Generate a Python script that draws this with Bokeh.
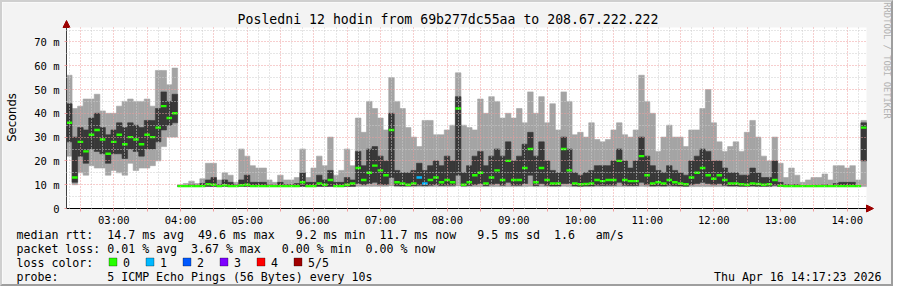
import numpy as np
from bokeh.plotting import figure
from bokeh.models import (FixedTicker, Arrow, NormalHead, Range1d, ColumnDataSource,
                          Label, BoxAnnotation, Grid)
from bokeh.embed import file_html
from bokeh.resources import INLINE

# ---------------- data (ms), one bin per 5 minutes from 02:17:23 ----------------
START_H = 2 + 17 / 60 + 23 / 3600
STEP_H = 5 / 60

RTT_MIN = [
    22, 10, 15, 14, 18, 17, 17, 14, 16, 15,
    14, 19, 16, 17, 17, 18, 20, 26, 30, 30,
    9.2, 9.2, 9.2, 9.2, 9.2, 9.2, 9.2, 9.2, 9.2, 9.2,
    9.2, 9.2, 9.2, 9.2, 9.2, 9.2, 9.2, 9.2, 9.2, 9.2,
    9.2, 9.2, 9.2, 9.2, 9.2, 9.2, 9.2, 9.2, 9.2, 9.2,
    9.2, 9.2, 9.3, 9.3, 9.3, 9.3, 9.3, 9.3, 9.5, 9.2,
    9.2, 9.2, 9.2, 9.2, 9.2, 9.2, 9.2, 9.2, 9.2, 9.2,
    9.5, 9.2, 9.2, 9.2, 9.2, 9.2, 9.2, 9.2, 9.2, 9.2,
    9.2, 9.2, 9.2, 9.3, 9.2, 9.2, 9.2, 9.2, 9.2, 9.3,
    9.2, 9.2, 9.2, 9.2, 9.2, 9.2, 9.2, 9.2, 9.2, 9.2,
    9.2, 9.2, 9.2, 9.3, 9.2, 9.2, 9.2, 9.2, 9.2, 9.2,
    9.2, 9.2, 9.2, 9.2, 9.2, 9.2, 9.2, 9.2, 9.2, 9.2,
    9.2, 9.2, 9.2, 9.2, 9.2, 9.2, 9.2, 9.2, 9.2, 9.2,
    9.2, 9.2, 9.2, 9.2, 9.2, 9.2, 9.2, 9.2, 9.2, 9.2,
    9.2, 9.2, 9.2, 9.2,
]
RTT_Q1 = [
    28, 11, 22, 19, 25, 24, 23, 19, 23, 23,
    21, 25, 24, 22, 25, 25, 28, 33, 35, 36,
    9.3, 9.3, 9.3, 9.3, 9.3, 9.3, 9.3, 9.3, 9.3, 9.3,
    9.3, 9.3, 9.3, 9.3, 9.3, 9.3, 9.3, 9.3, 9.3, 9.3,
    9.3, 9.3, 9.3, 9.3, 9.3, 9.3, 9.3, 9.3, 9.3, 9.3,
    9.3, 9.3, 10.5, 10, 10.5, 11, 10, 10, 13, 9.6,
    9.5, 9.5, 9.6, 9.8, 9.6, 9.8, 10, 9.7, 9.8, 9.8,
    14, 9.5, 9.7, 10, 10.5, 9.6, 10, 10.5, 9.8, 11,
    9.8, 9.8, 10.5, 14, 9.6, 10.5, 9.8, 9.5, 9.5, 10.5,
    10.5, 9.5, 9.4, 9.5, 9.5, 9.8, 9.7, 9.8, 9.8, 11,
    9.8, 9.7, 9.7, 11, 10, 9.5, 9.6, 9.5, 9.8, 9.6,
    9.5, 9.4, 10, 10.5, 11, 10.5, 10, 10.5, 9.8, 9.5,
    9.5, 9.4, 9.4, 9.5, 9.4, 9.4, 9.4, 9.8, 9.3, 9.3,
    9.3, 9.3, 9.3, 9.3, 9.3, 9.3, 9.3, 9.3, 9.3, 9.3,
    9.3, 9.3, 9.3, 20,
]
RTT_MEDIAN = [
    36, 13, 28, 24, 31, 33, 29, 23, 28, 31,
    27, 30, 29, 27, 31, 30, 34, 43, 38, 40,
    9.4, 9.4, 9.4, 9.4, 9.4, 10.2, 10, 9.4, 9.8, 9.4,
    9.4, 9.8, 10, 9.4, 9.4, 9.4, 9.4, 9.4, 9.4, 9.4,
    9.4, 9.4, 11, 9.4, 9.4, 10.5, 10, 12, 9.4, 9.4,
    10, 10.5, 17, 12, 15, 18, 16, 14, 33, 11,
    10.5, 10, 10.5, 13, 10.5, 12, 13, 11, 12, 11,
    42, 10, 11, 14, 15, 10.5, 13, 16, 12, 20,
    12, 12, 17, 25, 11, 17, 12, 10.5, 10.5, 25,
    16, 10.5, 10.2, 10.3, 10.5, 12, 11.5, 12, 12, 20,
    12, 11.5, 11.5, 22, 14, 10.5, 11, 10.5, 12, 11,
    10.5, 10.2, 13, 15, 17, 14, 12.5, 14, 12, 10.5,
    10.5, 10.2, 10, 10.5, 10.3, 10, 10.2, 12, 9.6, 9.4,
    9.4, 9.4, 9.4, 9.4, 9.4, 9.4, 9.4, 9.4, 9.4, 9.4,
    9.4, 9.4, 9.4, 34,
]
RTT_Q3 = [
    44, 30, 34, 33, 38, 40, 34, 31, 33, 36,
    34, 36, 35, 34, 37, 37, 42, 49, 45, 48,
    9.6, 9.6, 10, 9.8, 10.5, 12, 13, 10, 12, 11,
    10, 12, 14, 11, 11, 11, 10, 9.8, 11, 10,
    10, 10.5, 15, 11, 11, 14, 12, 16, 11, 11,
    13, 12, 24, 18, 25, 26, 22, 20, 40, 16,
    15, 15, 16, 19, 16, 18, 20, 18, 22, 20,
    47, 15, 18, 22, 24, 18, 22, 25, 22, 28,
    20, 22, 27, 32, 22, 28, 20, 16, 15, 30,
    25, 15, 14, 15, 16, 18, 18, 18, 20, 25,
    20, 17, 20, 30, 22, 18, 16, 15, 18, 16,
    15, 14, 20, 22, 25, 24, 20, 20, 17, 15,
    15, 14, 14, 17, 15, 13, 13, 20, 11, 10,
    10, 10, 9.6, 9.7, 9.8, 9.8, 10, 9.7, 10.5, 11,
    11, 11, 9.6, 36,
]
RTT_MAX = [
    56, 42, 43, 46, 46, 48, 41, 40, 40, 43,
    45, 46, 45, 45, 46, 43, 58, 58, 52, 59,
    10, 10.5, 11.5, 10.5, 12.5, 19, 19, 12, 15, 14,
    11, 25, 22, 18, 17, 17, 12, 11, 14, 12,
    12, 13, 25, 13, 17, 22, 18, 30, 14, 16,
    25, 18, 38, 32, 45, 42, 38, 33, 55, 45,
    42, 34, 30, 26, 37, 37, 31, 31, 33, 35,
    57, 35, 34, 33, 46, 40, 47, 45, 38, 40,
    38, 42, 36, 49, 40, 47, 36, 44, 33, 49,
    45, 31, 32, 30, 36, 29, 28, 29, 33, 36,
    31, 30, 33, 56, 45, 40, 24, 30, 35, 30,
    30, 26, 33, 33, 42, 50, 36, 28, 24, 26,
    28, 24, 32, 37, 30, 22, 20, 30, 19, 13,
    17, 14, 11, 12, 13, 13, 14.5, 12, 18, 18,
    17, 18, 12, 37,
]
LOSS = [
    0, 0, 0, 0, 0, 0, 0, 0, 0, 0, 0, 0, 0, 0, 0, 0, 0, 0, 0, 0,
    0, 0, 0, 0, 0, 0, 0, 0, 0, 0, 0, 0, 0, 0, 0, 0, 0, 0, 0, 0,
    0, 0, 0, 0, 0, 0, 0, 0, 0, 0, 0, 0, 0, 0, 0, 0, 0, 0, 0, 0,
    0, 0, 0, 1, 1, 0, 0, 0, 0, 0, 0, 0, 0, 0, 0, 0, 0, 0, 0, 0,
    0, 0, 0, 0, 0, 0, 0, 0, 0, 0, 0, 0, 0, 0, 0, 0, 0, 0, 0, 0,
    0, 0, 0, 0, 0, 0, 0, 0, 0, 0, 0, 0, 0, 0, 0, 0, 0, 0, 0, 0,
    0, 0, 0, 0, 0, 0, 0, 0, 0, 0, 0, 0, 0, 0, 0, 0, 0, 0, 0, 0,
    0, 0, 0, 0,
]

TITLE = "Posledni 12 hodin from 69b277dc55aa to 208.67.222.222"
Y_TICKS = [0, 10, 20, 30, 40, 50, 60, 70]
Y_LABELS = ["0", "10 m", "20 m", "30 m", "40 m", "50 m", "60 m", "70 m"]
X_HOURS = [3, 4, 5, 6, 7, 8, 9, 10, 11, 12, 13, 14]
X_LABELS = ["03:00", "04:00", "05:00", "06:00", "07:00", "08:00",
            "09:00", "10:00", "11:00", "12:00", "13:00", "14:00"]
LOSS_COLORS = ["#26ff00", "#00b8ff", "#0059ff", "#7e00ff", "#ff0000", "#a10000"]
LOSS_NAMES = ["0", "1", "2", "3", "4", "5/5"]
# (text, character column) pieces of the monospace legend rows
ROW_RTT = [("median rtt:", 0), ("14.7 ms avg", 13), ("49.6 ms max", 26), ("9.2 ms min", 40),
           ("11.7 ms now", 52), ("9.5 ms sd", 66), ("1.6", 77), ("am/s", 83)]
ROW_LOSS = [("packet loss:", 0), ("0.01 % avg", 13), ("3.67 % max", 25),
            ("0.00 % min", 38), ("0.00 % now", 50)]
ROW_PROBE = [("probe:", 0), ("5 ICMP Echo Pings (56 Bytes) every 10s", 13)]
STAMP = "Thu Apr 16 14:17:23 2026"

# ---------------- geometry (page pixels; canvas sits inside a 2px image border) ----------------
BORDER = 2
W, H = 897 - 2 * BORDER, 290 - 2 * BORDER
CL, CR, CT, CB = 66, 866, 27, 208          # chart area on the page
XMIN, XMAX = START_H, START_H + 12
YMAX = (CB - CT) / 2.38


def px_x(px):
    return XMIN + (px - CL) * (XMAX - XMIN) / (CR - CL)


def px_y(py):
    return (CB - py) / 2.38


MONO = "DejaVu Sans Mono"
LIGHT = "#a4a4a4"
DARK = "#383838"
MGRID = "#ef9d9d"
GRID = "#cdcdcd"
RED = "#9c0000"
CHAR = 6.98
TX0 = 16

p = figure(width=W, height=H,
           x_range=Range1d(px_x(BORDER), px_x(BORDER + W)),
           y_range=Range1d(px_y(BORDER + H), px_y(BORDER)),
           output_backend="svg", toolbar_location=None,
           min_border_left=0, min_border_right=0, min_border_top=0, min_border_bottom=0)
p.title.visible = False
p.background_fill_color = "#f3f3f3"
p.border_fill_color = "#f3f3f3"
p.outline_line_color = None
p.styles = {"border-style": "solid", "border-width": f"{BORDER}px",
            "border-color": "#cfcfcf #9e9e9e #9e9e9e #cfcfcf"}

# white chart canvas
p.add_layout(BoxAnnotation(left=XMIN, right=XMAX, bottom=0, top=YMAX, fill_color="white",
                           fill_alpha=1, line_color=None, level="underlay"))

# smoke
n = len(RTT_MEDIAN)
left = START_H + np.arange(n) * STEP_H
src = ColumnDataSource(dict(
    left=left, right=left + STEP_H,
    mn=RTT_MIN, q1=RTT_Q1, med=RTT_MEDIAN, q3=RTT_Q3, mx=RTT_MAX,
    col=[LOSS_COLORS[k] for k in LOSS]))
p.quad(left="left", right="right", bottom="mn", top="mx", source=src,
       fill_color=LIGHT, line_color=LIGHT, line_width=0.6)
p.quad(left="left", right="right", bottom="q1", top="q3", source=src,
       fill_color=DARK, line_color=DARK, line_width=0.6)
p.segment(x0="left", x1="right", y0="med", y1="med", source=src,
          line_color="col", line_width=2.4)

# axes, pinned to the chart corner
half_hours = [h / 2 for h in range(5, 29)]
ten_min = [k / 6 for k in range(14, 86) if k % 3 != 0]
xa = p.xaxis[0]
xa.fixed_location = 0
xa.bounds = (XMIN, XMAX)
xa.ticker = FixedTicker(ticks=half_hours)
ov = {float(h): "" for h in half_hours}
for h, lbl in zip(X_HOURS, X_LABELS):
    ov[float(h)] = lbl
xa.major_label_overrides = ov
xa.axis_line_color = "black"
xa.major_tick_line_color = MGRID
xa.major_tick_out = 3
xa.major_tick_in = 0
xa.minor_tick_line_color = None
xa.major_label_text_font = MONO
xa.major_label_text_font_size = "10.5px"
xa.major_label_text_color = "black"
xa.major_label_standoff = 2

ya = p.yaxis[0]
ya.fixed_location = XMIN
ya.bounds = (0, YMAX)
ya.ticker = FixedTicker(ticks=Y_TICKS)
ya.major_label_overrides = {float(t): l for t, l in zip(Y_TICKS, Y_LABELS)}
ya.axis_line_color = "#404040"
ya.major_tick_line_color = MGRID
ya.major_tick_out = 2
ya.major_tick_in = 0
ya.minor_tick_line_color = None
ya.major_label_text_font = MONO
ya.major_label_text_font_size = "10.5px"
ya.major_label_text_color = "black"
ya.major_label_standoff = 5

# grid lines (on top of the smoke, as rrdtool draws them)
y_minor = [5, 15, 25, 35, 45, 55, 65, 75]
if "cross_bounds" in Grid.properties():
    p.xgrid.ticker = FixedTicker(ticks=half_hours, minor_ticks=ten_min)
    p.ygrid.ticker = FixedTicker(ticks=Y_TICKS[1:], minor_ticks=y_minor)
    p.xgrid[0].cross_bounds = (0, YMAX)
    p.ygrid[0].cross_bounds = (XMIN, XMAX)
    for g in (p.xgrid[0], p.ygrid[0]):
        g.grid_line_color = MGRID
        g.grid_line_dash = "1 2"
        g.minor_grid_line_color = GRID
        g.minor_grid_line_dash = "1 2"
        g.level = "overlay"
else:
    p.xgrid.visible = False
    p.ygrid.visible = False
    for xs, c in ((ten_min, GRID), (half_hours, MGRID)):
        r = p.segment(x0=xs, x1=xs, y0=[0] * len(xs), y1=[YMAX] * len(xs),
                      line_color=c, line_dash="1 2", line_width=1)
        r.level = "overlay"
    for ys, c in ((y_minor, GRID), (Y_TICKS[1:], MGRID)):
        r = p.segment(x0=[XMIN] * len(ys), x1=[XMAX] * len(ys), y0=ys, y1=ys,
                      line_color=c, line_dash="1 2", line_width=1)
        r.level = "overlay"

# axis arrows
p.add_layout(Arrow(end=NormalHead(size=7, fill_color=RED, line_color=RED),
                   x_start=XMIN, y_start=YMAX, x_end=XMIN, y_end=px_y(20),
                   line_color="#404040", line_width=1))
p.add_layout(Arrow(end=NormalHead(size=7, fill_color=RED, line_color=RED),
                   x_start=XMAX, y_start=0, x_end=px_x(873), y_end=0,
                   line_color="black", line_width=1))


def txt(s, px, py, size="11.6px", align="left", font=MONO, color="black", angle=0.0):
    p.add_layout(Label(x=px_x(px), y=px_y(py), text=s, text_font=font,
                       text_font_size=size, text_align=align, text_baseline="middle",
                       text_color=color, angle=angle))


txt(TITLE, 447.5, 19, size="13.2px", align="center")
txt("Seconds", 11, 117, size="11.6px", align="center", font="DejaVu Sans", angle=np.pi / 2)
txt("RRDTOOL / TOBI OETIKER", 886, 60, size="8.8px", align="center", color="#b2b2b2",
    angle=-np.pi / 2)

for s, col in ROW_RTT:
    txt(s, TX0 + CHAR * col, 234)
for s, col in ROW_LOSS:
    txt(s, TX0 + CHAR * col, 248)
txt("loss color:", TX0, 262)
for i, (nm, c) in enumerate(zip(LOSS_NAMES, LOSS_COLORS)):
    x0 = 108.5 + 37 * i
    p.add_layout(BoxAnnotation(left=px_x(x0), right=px_x(x0 + 8), top=px_y(257.5),
                               bottom=px_y(265.5), fill_color=c, fill_alpha=1,
                               line_color="black", line_width=1))
    txt(nm, x0 + 14, 262)
for s, col in ROW_PROBE:
    txt(s, TX0 + CHAR * col, 276)
txt(STAMP, 881, 276, align="right")

open("out.html", "w").write(file_html(p, INLINE))
